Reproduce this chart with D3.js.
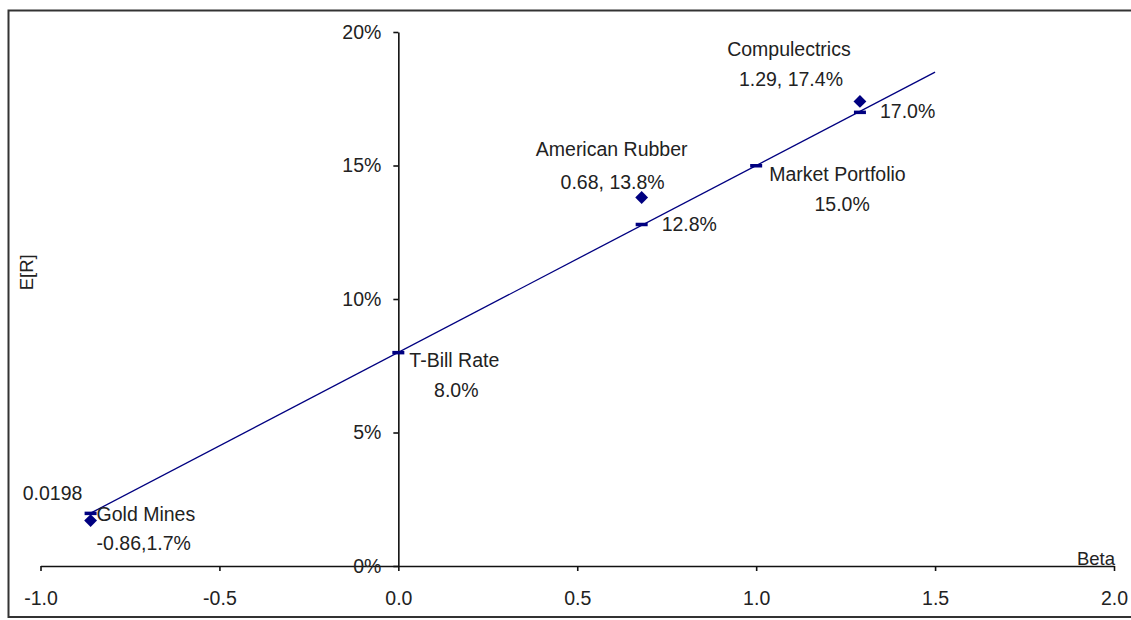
<!DOCTYPE html>
<html><head><meta charset="utf-8">
<script src="https://cdn.jsdelivr.net/npm/d3@7/dist/d3.min.js"></script>
<style>
html,body{margin:0;padding:0;background:#fff;overflow:hidden;}
svg{display:block;}
svg text{font-family:"Liberation Sans",Arial,sans-serif;}
</style></head>
<body><svg id="c" width="1131" height="620"></svg>
<script>
// ---- data ----
const securities = ["Gold Mines", "American Rubber", "Compulectrics"];
const secBeta = [-0.86, 0.68, 1.29];
const secReturn = [0.017, 0.138, 0.174];

const smlNames = ["Gold Mines", "T-Bill Rate", "American Rubber", "Market Portfolio", "Compulectrics"];
const smlBeta = [-0.86, 0, 0.68, 1.0, 1.29];
const smlReturn = [0.0198, 0.08, 0.128, 0.15, 0.170];

const lineBeta = [-0.86, 1.5];
const lineReturn = [0.0198, 0.185];

const xTicks = [-1.0, -0.5, 0.0, 0.5, 1.0, 1.5, 2.0];
const xTickLabels = ["-1.0", "-0.5", "0.0", "0.5", "1.0", "1.5", "2.0"];
const yTicks = [0, 0.05, 0.10, 0.15, 0.20];
const yTickLabels = ["0%", "5%", "10%", "15%", "20%"];

// label texts, attached to a point (beta, return)
const labelText = ["0.0198", "Gold Mines", "-0.86,1.7%", "T-Bill Rate", "8.0%",
  "American Rubber", "0.68, 13.8%", "12.8%", "Market Portfolio", "15.0%",
  "Compulectrics", "1.29, 17.4%", "17.0%"];
const labelBeta = [-0.86, -0.86, -0.86, 0, 0, 0.68, 0.68, 0.68, 1.0, 1.0, 1.29, 1.29, 1.29];
const labelReturn = [0.0198, 0.017, 0.017, 0.08, 0.08, 0.138, 0.138, 0.128, 0.15, 0.15, 0.174, 0.174, 0.170];

// ---- layout (pixel offsets from anchor point) ----
const labelLayout = [
  {dx:-38, dy:-20, a:"middle"},
  {dx:6, dy:-6, a:"start"},
  {dx:6, dy:23, a:"start"},
  {dx:11, dy:8, a:"start"},
  {dx:58, dy:38, a:"middle"},
  {dx:-30, dy:-48, a:"middle"},
  {dx:-29, dy:-15, a:"middle"},
  {dx:20, dy:0, a:"start"},
  {dx:13, dy:9, a:"start"},
  {dx:86, dy:39, a:"middle"},
  {dx:-71, dy:-52, a:"middle"},
  {dx:-69, dy:-22, a:"middle"},
  {dx:20, dy:-1, a:"start"}
];

const FS = 19.5;
const svg = d3.select("#c");
const navy = "#000080";
const x = d3.scaleLinear().domain([-1, 2]).range([40.5, 1114]);
const y = d3.scaleLinear().domain([0, 0.2]).range([566, 32]);

// outer border
svg.append("rect").attr("x", 8.5).attr("y", 10.5).attr("width", 1140).attr("height", 606.5)
  .attr("fill", "none").attr("stroke", "#333").attr("stroke-width", 2);

// x axis
const gx = svg.append("g").attr("transform", `translate(0,${y(0)})`)
  .call(d3.axisBottom(x).tickValues(xTicks).tickFormat((d, i) => xTickLabels[i]).tickSize(5).tickSizeOuter(0).tickPadding(20));
// y axis
const gy = svg.append("g").attr("transform", `translate(${x(0)},0)`)
  .call(d3.axisLeft(y).tickValues(yTicks).tickFormat((d, i) => yTickLabels[i]).tickSize(5).tickSizeOuter(0).tickPadding(12));
[gx, gy].forEach(g => {
  g.selectAll("path.domain").attr("stroke", "#111").attr("stroke-width", 1.6);
  g.selectAll(".tick line").attr("stroke", "#111").attr("stroke-width", 1.6);
  g.selectAll(".tick text").attr("font-size", FS).attr("fill", "#222")
   .style("font-family", '"Liberation Sans",Arial,sans-serif');
});
gx.selectAll(".tick text").attr("dy", "0.71em");

// axis titles
svg.append("text").attr("x", x(2) - 18).attr("y", y(0) - 1).attr("text-anchor", "middle")
  .attr("font-size", FS - 1).attr("fill", "#222").text("Beta");
svg.append("text").attr("transform", `translate(33,${y(0.11)}) rotate(-90)`).attr("text-anchor", "middle")
  .attr("font-size", FS - 1).attr("fill", "#222").text("E[R]");

// SML line
const line = d3.line().x((d, i) => x(lineBeta[i])).y((d, i) => y(lineReturn[i]));
svg.append("path").datum(lineBeta).attr("d", line).attr("fill", "none")
  .attr("stroke", navy).attr("stroke-width", 1.3);

// SML dash markers
svg.selectAll("rect.dash").data(smlNames).join("rect").attr("class", "dash")
  .attr("x", (d, i) => x(smlBeta[i]) - 6).attr("y", (d, i) => y(smlReturn[i]) - 1.5)
  .attr("width", 12).attr("height", 3.5).attr("fill", navy);

// diamonds
const diamond = d3.symbol().type(d3.symbolDiamond2).size(105);
svg.selectAll("path.dia").data(securities).join("path").attr("class", "dia")
  .attr("transform", (d, i) => `translate(${x(secBeta[i])},${y(secReturn[i])})`)
  .attr("d", diamond).attr("fill", navy);

// labels
svg.selectAll("text.lbl").data(labelText).join("text").attr("class", "lbl")
  .attr("x", (d, i) => x(labelBeta[i]) + labelLayout[i].dx)
  .attr("y", (d, i) => y(labelReturn[i]) + labelLayout[i].dy)
  .attr("dy", "0.35em")
  .attr("text-anchor", (d, i) => labelLayout[i].a)
  .attr("font-size", FS).attr("fill", "#222").text(d => d);
</script></body></html>
